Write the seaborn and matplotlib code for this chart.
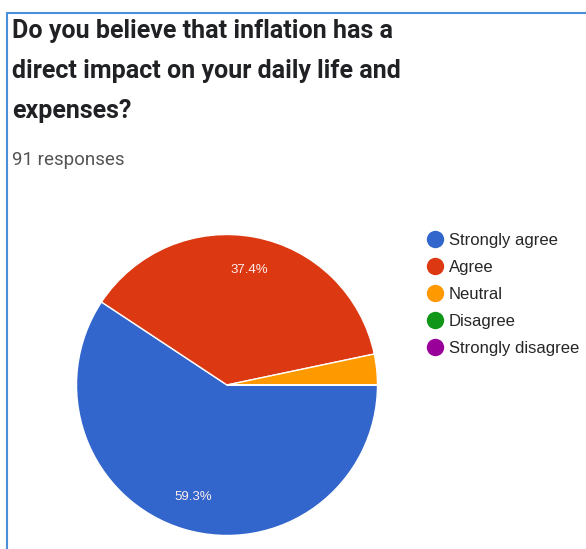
import matplotlib
matplotlib.use("Agg")
import matplotlib.pyplot as plt
from matplotlib.lines import Line2D
import seaborn as sns

title_lines = ["Do you believe that inflation has a",
               "direct impact on your daily life and",
               "expenses?"]
subtitle = "91 responses"
categories = ["Strongly agree", "Agree", "Neutral", "Disagree", "Strongly disagree"]
values = [59.3, 37.4, 3.3, 0.0, 0.0]
colors = ["#3366cc", "#dc3912", "#ff9900", "#109618", "#990099"]

sns.set_theme(style="white")
plt.rcParams['font.family'] = ['Liberation Sans', 'DejaVu Sans']

fig = plt.figure(figsize=(5.86, 5.49), dpi=100)
fig.patch.set_facecolor("white")

W, H = 586, 549
ax = fig.add_axes([75 / W, (H - 537) / H, 304 / W, 304 / H])

def fmt(p):
    return f"{p:.1f}%" if p >= 5 else ""

wedges, texts, autotexts = ax.pie(values, colors=colors, startangle=0, counterclock=False,
                                  autopct=fmt, pctdistance=0.78,
                                  wedgeprops=dict(edgecolor="white", linewidth=1.0),
                                  textprops=dict(color="#fdeeee", fontsize=9.5))
ax.set_xlim(-1.01, 1.01)
ax.set_ylim(-1.01, 1.01)
ax.set_aspect("equal")

# title
ys = [31, 71, 111]
for line, y in zip(title_lines, ys):
    fig.text(12 / W, 1 - y / H, line, fontsize=18, fontweight="bold", family="Roboto",
             color="#202124", va="center", ha="left")
fig.text(12 / W, 1 - 160 / H, subtitle, fontsize=13.5, family="Roboto", color="#555555",
         va="center", ha="left")

handles = [Line2D([0], [0], marker="o", linestyle="none", markersize=11.5,
                  markerfacecolor=c, markeredgecolor=c) for c in colors]
fig.legend(handles, categories, loc="upper left", bbox_to_anchor=(418 / W, 1 - 226 / H),
           frameon=False, fontsize=12, handletextpad=0.25, labelspacing=0.72,
           borderaxespad=0, handlelength=1.2)

# border
fig.add_artist(Line2D([7 / W, 1], [1 - 13 / H, 1 - 13 / H], transform=fig.transFigure,
                      color="#4a90d9", linewidth=1.5))
fig.add_artist(Line2D([7 / W, 7 / W], [0, 1 - 13 / H], transform=fig.transFigure,
                      color="#4a90d9", linewidth=1.5))

fig.savefig("out.png", dpi=100)
